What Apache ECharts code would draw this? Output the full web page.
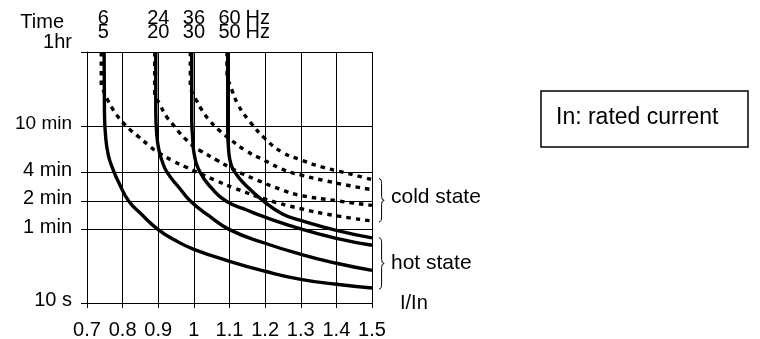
<!DOCTYPE html>
<html>
<head>
<meta charset="utf-8">
<script src="https://cdn.jsdelivr.net/npm/echarts@6/dist/echarts.min.js"></script>
<style>
  html, body { margin: 0; padding: 0; background: #fff; }
  #chart { width: 760px; height: 339px; }
</style>
</head>
<body>
<div id="chart"></div>
<script>
// y axis: time in seconds, drawn on the chart's own warped log scale
const yTickSec = [10, 60, 120, 240, 600, 3600];
const yTickLabels = ['10 s', '1 min', '2 min', '4 min', '10 min', '1hr'];
const yTickPos = [0, 73.4, 102, 130.4, 177, 251];

// frequency headings over each curve pair
const freqX = [0.746, 0.9, 1.0, 1.1];
const freq60 = ['6', '24', '36', '60'];
const freq50 = ['5', '20', '30', '50'];

// [I/In, seconds]  hot state (solid)
const hot1 = [[0.748, 3600], [0.749, 877], [0.752, 500], [0.76, 337], [0.774, 251], [0.79, 185], [0.817, 120], [0.85, 89], [0.9, 60], [0.95, 45.6], [1.0, 37.1], [1.1, 27.7], [1.2, 21.7], [1.3, 17.8], [1.4, 15.8], [1.5, 14.4]];
const hot2 = [[0.893, 3600], [0.893, 877], [0.896, 500], [0.902, 372], [0.91, 306], [0.925, 241], [0.96, 164], [0.99, 120], [1.04, 85], [1.1, 60], [1.2, 43], [1.3, 32.8], [1.4, 26.4], [1.5, 22.2]];
const hot3 = [[0.994, 3600], [0.994, 723], [0.997, 453], [1.0, 358], [1.018, 240], [1.05, 164], [1.09, 120], [1.15, 96], [1.2, 81], [1.3, 61], [1.4, 48.5], [1.5, 40.9]];
const hot4 = [[1.095, 3600], [1.095, 551], [1.098, 358], [1.105, 277], [1.116, 240], [1.14, 185], [1.195, 120], [1.25, 87], [1.3, 75], [1.4, 59], [1.5, 49]];

// cold state (dotted)
const cold1 = [[0.74, 3600], [0.74, 1729], [0.746, 1424], [0.757, 1145], [0.771, 921], [0.786, 759], [0.803, 640], [0.821, 557], [0.845, 485], [0.873, 411], [0.897, 361], [0.943, 300], [0.976, 269], [1.004, 246], [1.06, 199], [1.111, 166], [1.205, 124], [1.298, 100], [1.399, 84], [1.5, 74]];
const cold2 = [[0.89, 3600], [0.89, 1367], [0.906, 990], [0.924, 746], [0.943, 610], [0.962, 517], [0.98, 453], [1.004, 391], [1.018, 369], [1.065, 306], [1.116, 251], [1.172, 204], [1.242, 160], [1.298, 138], [1.399, 121], [1.5, 108]];
const cold3 = [[0.99, 3600], [0.99, 1607], [0.995, 1357], [1.007, 1118], [1.023, 877], [1.046, 672], [1.074, 541], [1.107, 449], [1.144, 372], [1.2, 303], [1.256, 251], [1.303, 225], [1.368, 197], [1.438, 174], [1.5, 158]];
const cold4 = [[1.093, 3600], [1.093, 2048], [1.102, 1607], [1.125, 990], [1.158, 661], [1.2, 468], [1.247, 360], [1.303, 306], [1.359, 268], [1.415, 243], [1.471, 216], [1.5, 202]];

const FONT = 'Liberation Sans, Arial, sans-serif';
const FS = 20;

// seconds -> position on the y axis (log, piecewise between the labelled ticks)
function toPos(sec) {
    const v = Math.log10(sec);
    for (let i = 1; i < yTickSec.length; i++) {
        const a = Math.log10(yTickSec[i - 1]);
        const b = Math.log10(yTickSec[i]);
        if (v <= b || i === yTickSec.length - 1) {
            return yTickPos[i - 1] + (v - a) / (b - a) * (yTickPos[i] - yTickPos[i - 1]);
        }
    }
}

function curve(data, dotted) {
    return {
        type: 'line',
        data: data.map(([x, s]) => [x, toPos(s)]),
        showSymbol: false,
        smooth: 0.5,
        clip: false,
        silent: true,
        lineStyle: {
            color: '#000',
            width: 3.4,
            type: dotted ? [4.5, 5] : 'solid',
            cap: 'butt',
        },
    };
}

const chart = echarts.init(document.getElementById('chart'));

chart.setOption({
    animation: false,
    grid: { left: 87, right: 388, top: 52, bottom: 36, containLabel: false, outerBoundsMode: 'none' },
    xAxis: {
        type: 'value',
        min: 0.7,
        max: 1.5,
        interval: 0.1,
        name: 'I/In',
        nameLocation: 'end',
        nameGap: 28,
        nameTextStyle: { color: '#000', fontSize: FS, fontFamily: FONT, padding: [0, 0, 5, 0] },
        axisLine: { onZero: false, lineStyle: { color: '#000', width: 1 } },
        axisTick: { show: true, length: 5, lineStyle: { color: '#000' } },
        axisLabel: { color: '#000', fontSize: FS, fontFamily: FONT, margin: 17 },
        splitLine: { show: true, lineStyle: { color: '#000', width: 1 } },
    },
    yAxis: {
        type: 'value',
        min: 0,
        max: yTickPos[yTickPos.length - 1],
        axisLine: { show: true, onZero: false, lineStyle: { color: '#000', width: 1 } },
        axisTick: { show: true, length: 6, customValues: yTickPos, lineStyle: { color: '#000' } },
        axisLabel: {
            customValues: yTickPos,
            color: '#000',
            fontSize: FS,
            fontFamily: FONT,
            margin: 15,
            formatter: (v) => {
                const i = yTickPos.indexOf(v);
                const t = yTickLabels[i];
                if (i === yTickPos.length - 1) return '{top|' + t + '}';
                if (i === yTickPos.length - 2) return '{narrow|' + t + '}';
                return '{n|' + t + '}';
            },
            rich: {
                n: { fontSize: FS, fontFamily: FONT, color: '#000', padding: [0, 0, 5, 0] },
                narrow: { fontSize: 19, fontFamily: FONT, color: '#000', padding: [0, 0, 5, 0] },
                top: { fontSize: FS, fontFamily: FONT, color: '#000', padding: [0, 0, 20, 0] },
            },
        },
        splitLine: { show: true, lineStyle: { color: '#000', width: 1 } },
    },
    series: [
        curve(cold1, true), curve(cold2, true), curve(cold3, true), curve(cold4, true),
        curve(hot1, false), curve(hot2, false), curve(hot3, false), curve(hot4, false),
    ],
});

// headings, braces and note placed through the chart's own scale
const px = (x, s) => chart.convertToPixel({ gridIndex: 0 }, [x, toPos(s)]);
const txt = (x, y, text, align, size) => ({
    type: 'text', x, y,
    style: { text, fill: '#000', font: (size || FS) + 'px ' + FONT, align: align || 'center', verticalAlign: 'middle' },
});

const thin = { fill: 'none', stroke: '#000', lineWidth: 1 };
function brace(x0, y1, y2) {
    const w = 2.6, ym = (y1 + y2) / 2, xm = x0 + w;
    const q = (ax, ay, cx, cy, bx, by) => ({
        type: 'bezierCurve', shape: { x1: ax, y1: ay, cpx1: cx, cpy1: cy, x2: bx, y2: by }, style: thin,
    });
    const l = (ay, by) => ({ type: 'line', shape: { x1: xm, y1: ay, x2: xm, y2: by }, style: thin });
    return [
        q(x0, y1, xm, y1, xm, y1 + 5),
        l(y1 + 5, ym - 4),
        q(xm, ym - 4, xm, ym, x0 + 2 * w, ym),
        q(x0 + 2 * w, ym, xm, ym, xm, ym + 4),
        l(ym + 4, y2 - 5),
        q(xm, y2 - 5, xm, y2, x0, y2),
    ];
}

const g = [txt(64, 22, 'Time', 'right')];
freqX.forEach((fx, i) => {
    const p = px(fx, 3600);
    g.push(txt(p[0], 18, freq60[i]));
    g.push(txt(p[0], 32, freq50[i]));
});
const lastX = px(freqX[3], 3600)[0];
g.push(txt(lastX + 16, 18, 'Hz', 'left'));
g.push(txt(lastX + 16, 32, 'Hz', 'left'));

const edge = px(1.5, 3600)[0] + 7;
const coldTop = px(1.5, cold4[cold4.length - 1][1])[1] - 1;
const coldBot = px(1.5, cold1[cold1.length - 1][1])[1] + 1;
const hotTop = px(1.5, hot4[hot4.length - 1][1])[1];
const hotBot = px(1.5, hot1[hot1.length - 1][1])[1] + 1;
g.push(...brace(edge, coldTop, coldBot));
g.push(...brace(edge, hotTop, hotBot));
g.push(txt(edge + 12, (coldTop + coldBot) / 2 - 3, 'cold state', 'left', 21));
g.push(txt(edge + 12, (hotTop + hotBot) / 2, 'hot state', 'left', 21));

g.push({
    type: 'rect',
    shape: { x: 541, y: 91, width: 207, height: 56 },
    style: { fill: '#fff', stroke: '#000', lineWidth: 1.5 },
});
g.push(txt(556, 118, 'In: rated current', 'left', 23));

chart.setOption({ graphic: g });
</script>
</body>
</html>
